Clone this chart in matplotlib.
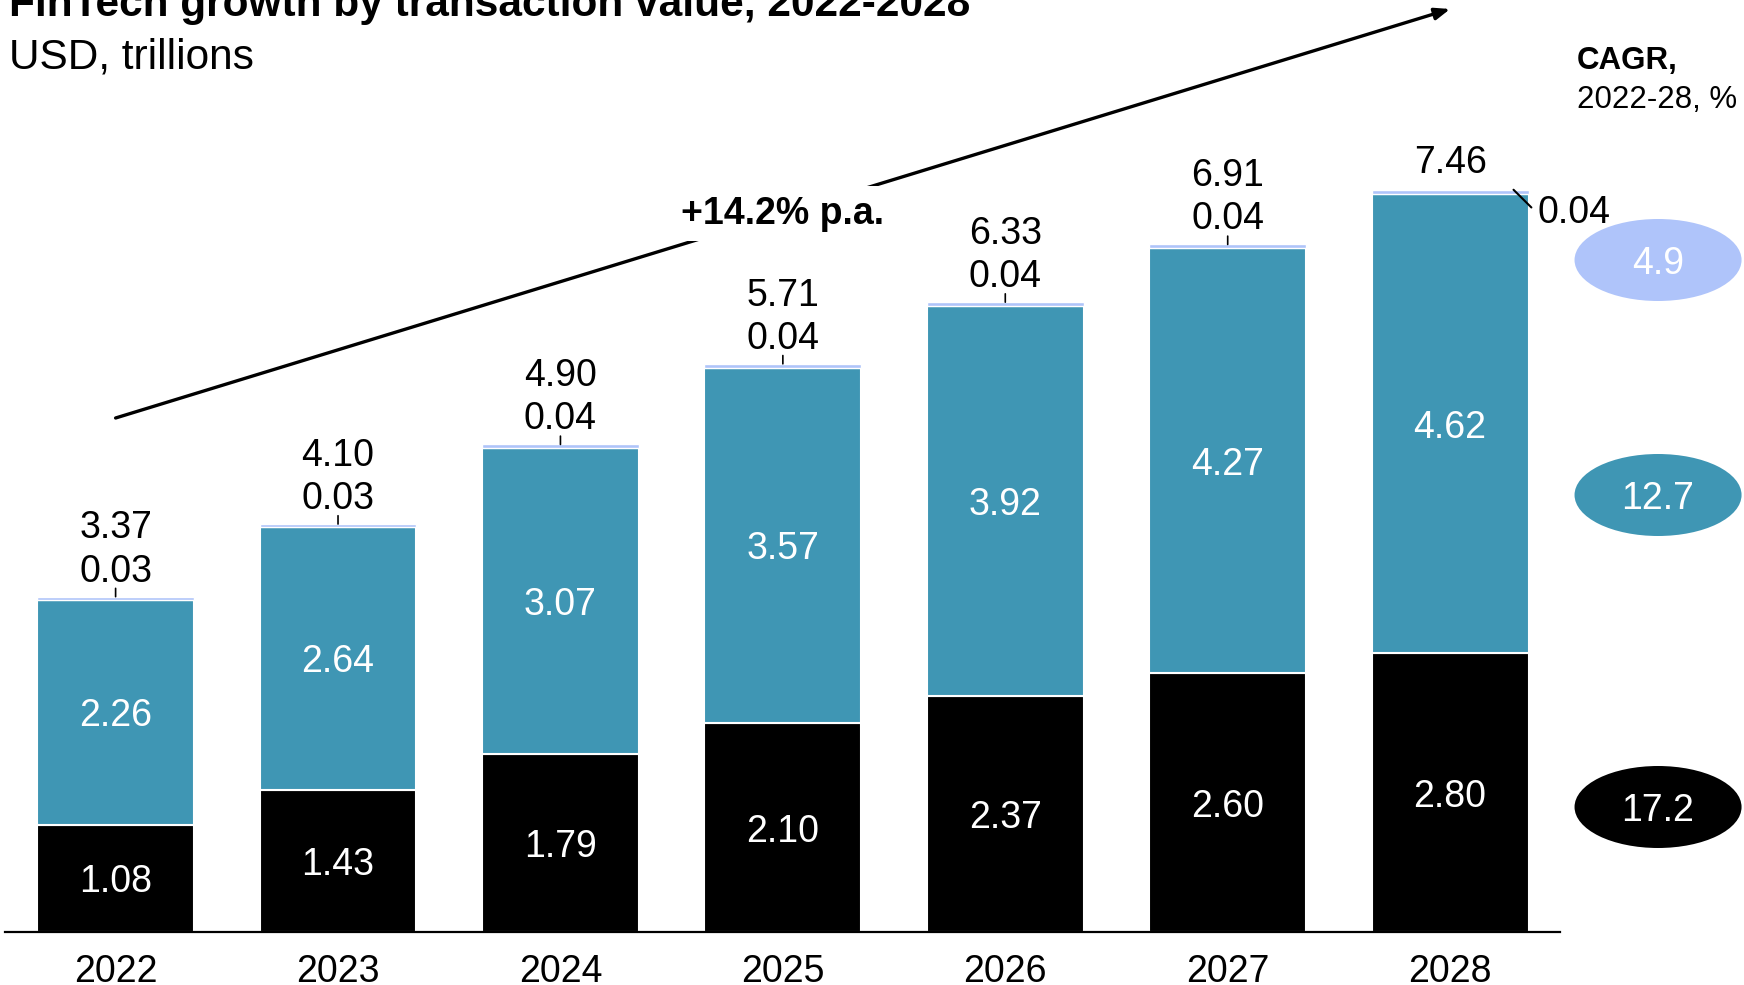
import matplotlib
matplotlib.use("Agg")
import matplotlib.pyplot as plt
from matplotlib.patches import Ellipse

plt.rcParams['font.family'] = ['Liberation Sans', 'DejaVu Sans']

years = ["2022", "2023", "2024", "2025", "2026", "2027", "2028"]
seg_black = [1.08, 1.43, 1.79, 2.10, 2.37, 2.60, 2.80]
seg_teal = [2.26, 2.64, 3.07, 3.57, 3.92, 4.27, 4.62]
seg_light = [0.03, 0.03, 0.04, 0.04, 0.04, 0.04, 0.04]
totals = [3.37, 4.10, 4.90, 5.71, 6.33, 6.91, 7.46]
cagr_values = ["17.2", "12.7", "4.9"]
cagr_label = "+14.2% p.a."

BLACK = "#000000"
TEAL = "#3F96B4"
LIGHT = "#AFC4FA"

W, H = 1744, 985
fig = plt.figure(figsize=(W / 100, H / 100), dpi=100)
base_px = 932
ax = fig.add_axes([5.5 / W, (H - base_px) / H, (1560 - 5.5) / W, base_px / H])
ax.set_xlim(-0.495, 6.494)
ax.set_ylim(0, base_px / 99.5)

x = list(range(len(years)))
bw = 0.705
ax.bar(x, seg_black, width=bw, color=BLACK, edgecolor="white", linewidth=1.5)
ax.bar(x, seg_teal, width=bw, bottom=seg_black, color=TEAL, edgecolor="white", linewidth=1.5)
bottom2 = [a + b for a, b in zip(seg_black, seg_teal)]
ax.bar(x, seg_light, width=bw, bottom=bottom2, color=LIGHT, edgecolor="white", linewidth=1.0)

fs = 27
VA = "center_baseline"
for i in range(len(years)):
    ax.text(x[i], seg_black[i] / 2, f"{seg_black[i]:.2f}", ha="center", va=VA,
            color="white", fontsize=fs)
    ax.text(x[i], seg_black[i] + seg_teal[i] / 2, f"{seg_teal[i]:.2f}", ha="center",
            va=VA, color="white", fontsize=fs)
    top = totals[i]
    if i < len(years) - 1:
        ax.annotate("", xy=(x[i], top), xytext=(0, 6), textcoords="offset points",
                    arrowprops=dict(arrowstyle="-", color="black", lw=1.2,
                                    shrinkA=0, shrinkB=0))
        ax.annotate(f"{seg_light[i]:.2f}", xy=(x[i], top), xytext=(0, 21),
                    textcoords="offset points", ha="center", va=VA, fontsize=fs)
        ax.annotate(f"{totals[i]:.2f}", xy=(x[i], top), xytext=(0, 52),
                    textcoords="offset points", ha="center", va=VA, fontsize=fs)
    else:
        ax.annotate(f"{totals[i]:.2f}", xy=(x[i], top), xytext=(0, 22),
                    textcoords="offset points", ha="center", va=VA, fontsize=fs)
        ax.annotate(f"{seg_light[i]:.2f}", xy=(x[i] + 0.285, top), xytext=(17, -14),
                    textcoords="offset points", ha="left", va=VA, fontsize=fs,
                    arrowprops=dict(arrowstyle="-", color="black", lw=1.5,
                                    shrinkA=3, shrinkB=0, relpos=(0, 0.5)))

# axis styling
for s in ["top", "right", "left"]:
    ax.spines[s].set_visible(False)
ax.spines["bottom"].set_linewidth(1.6)
ax.set_yticks([])
ax.set_xticks(x)
ax.set_xticklabels(years, fontsize=fs)
ax.tick_params(axis="x", length=0, pad=16)

# CAGR arrow
y0 = (base_px - 418) / 99.5
y1 = (base_px - 9) / 99.5
ax.annotate("", xy=(6, y1), xytext=(0, y0),
            arrowprops=dict(arrowstyle="-|>,head_length=0.9,head_width=0.35",
                            color="black", lw=2.4, shrinkA=0, shrinkB=0),
            annotation_clip=False)
ax.text(3.0, (y0 + y1) / 2, cagr_label, ha="center", va="center", fontsize=27,
        fontweight="bold", bbox=dict(boxstyle="square,pad=0.25", fc="white", ec="none"),
        zorder=5, clip_on=False)

# CAGR ellipses
ell_y = [(base_px - 807) / 99.5, (base_px - 495) / 99.5, (base_px - 260) / 99.5]
ell_c = [BLACK, TEAL, LIGHT]
ell_x = (1658 - 115.7) / 222.4
for val, yy, c in zip(cagr_values, ell_y, ell_c):
    e = Ellipse((ell_x, yy), width=167 / 222.4, height=82 / 99.5, facecolor=c,
                edgecolor="none", clip_on=False)
    ax.add_patch(e)
    ax.text(ell_x, yy, val, ha="center", va=VA, color="white", fontsize=fs,
            clip_on=False)

fig.text(1577 / W, 1 - 58 / H, "CAGR,", fontsize=22.5, fontweight="bold",
         ha="left", va=VA)
fig.text(1577 / W, 1 - 96 / H, "2022-28, %", fontsize=22.5, ha="left", va=VA)

fig.text(9 / W, 1 - 16 / H, "FinTech growth by transaction value, 2022-2028",
         fontsize=30.5, fontweight="bold", ha="left", va="baseline")
fig.text(9 / W, 1 - 53 / H, "USD, trillions", fontsize=30.5, ha="left", va=VA)

fig.savefig("out.png", dpi=100)
